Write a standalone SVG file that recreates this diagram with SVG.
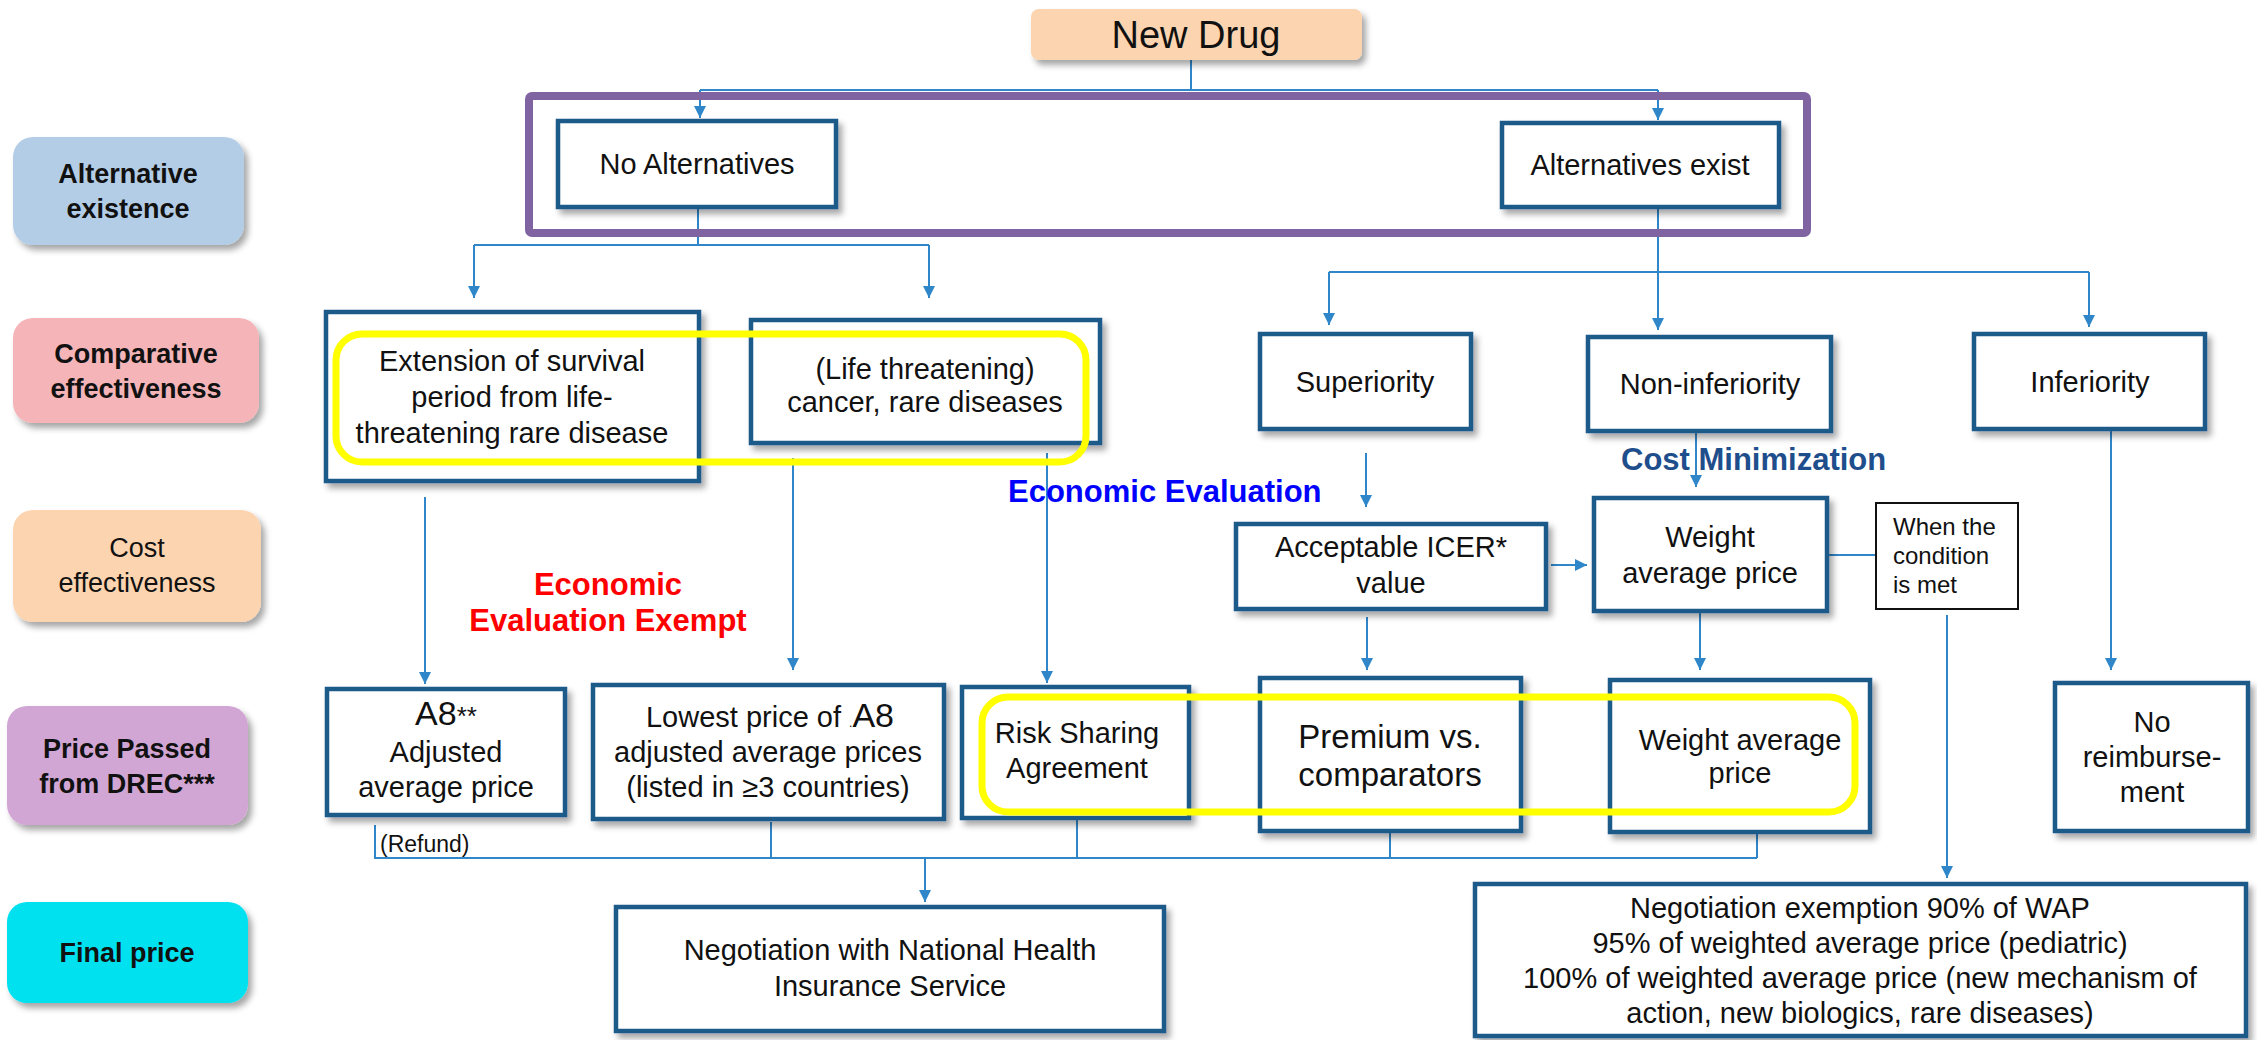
<svg xmlns="http://www.w3.org/2000/svg" width="2257" height="1040" viewBox="0 0 2257 1040">
<defs>
<filter id="sh" x="-10%" y="-10%" width="130%" height="140%">
<feDropShadow dx="4" dy="5" stdDeviation="3" flood-color="#000" flood-opacity="0.35"/>
</filter>
<marker id="ar" viewBox="0 0 10 10" refX="10" refY="5" markerUnits="userSpaceOnUse" markerWidth="14" markerHeight="12" orient="auto">
<path d="M0,0 L10,5 L0,10 z" fill="#2f86c9"/>
</marker>
<style>
text{font-family:"Liberation Sans",Arial,sans-serif;fill:#111;}
.lab{font-size:27px;font-weight:bold;text-anchor:middle;}
.t{font-size:29px;text-anchor:middle;}
.box{fill:#fff;stroke:#1e5a8a;stroke-width:4.5;filter:url(#sh);}
.lbl{stroke:none;filter:url(#sh);}
.c{fill:none;stroke:#2f86c9;stroke-width:2;}
.ca{fill:none;stroke:#2f86c9;stroke-width:2;marker-end:url(#ar);}
.yel{fill:none;stroke:#ffff00;stroke-width:7;}
.hl{font-size:31px;font-weight:bold;}
</style>
</defs>
<rect width="2257" height="1040" fill="#fff"/>

<g id="labels">
<g id="lab-alt"><rect class="lbl" x="13" y="137" width="231" height="108" rx="20" fill="#b3cde7"/>
<text class="lab" x="128" y="183">Alternative</text><text class="lab" x="128" y="218">existence</text></g>
<g id="lab-comp"><rect class="lbl" x="13" y="318" width="246" height="105" rx="20" fill="#f5b5b8"/>
<text class="lab" x="136" y="363">Comparative</text><text class="lab" x="136" y="398">effectiveness</text></g>
<g id="lab-cost"><rect class="lbl" x="13" y="510" width="248" height="112" rx="20" fill="#fdd4b0"/>
<text class="lab" x="137" y="557" style="font-weight:normal">Cost</text><text class="lab" x="137" y="592" style="font-weight:normal">effectiveness</text></g>
<g id="lab-price"><rect class="lbl" x="7" y="706" width="241" height="119" rx="20" fill="#d2a6d4"/>
<text class="lab" x="127" y="758">Price Passed</text><text class="lab" x="127" y="793">from DREC***</text></g>
<g id="lab-final"><rect class="lbl" x="7" y="902" width="241" height="101" rx="20" fill="#00e1f0"/>
<text class="lab" x="127" y="962">Final price</text></g>
</g>

<g id="connectors">
<path class="c" d="M1191,60 V90 M700,90 H1658"/>
<path class="ca" d="M700,90 V118"/>
<path class="ca" d="M1658,90 V120"/>
<path class="c" d="M698,209 V245 M474,245 H929"/>
<path class="ca" d="M474,245 V298"/>
<path class="ca" d="M929,245 V298"/>
<path class="ca" d="M1658,209 V330"/>
<path class="c" d="M1329,272 H2089"/>
<path class="ca" d="M1329,272 V325"/>
<path class="ca" d="M2089,272 V327"/>
<path class="ca" d="M425,497 V684"/>
<path class="ca" d="M793,458 V670"/>
<path class="ca" d="M1047,453 V683"/>
<path class="ca" d="M1366,453 V507"/>
<path class="ca" d="M1367,617 V670"/>
<path class="ca" d="M1551,565 H1587"/>
<path class="ca" d="M1696,433 V487"/>
<path class="c" d="M1829,555 H1876"/>
<path class="ca" d="M1700,613 V670"/>
<path class="ca" d="M1947,615 V878"/>
<path class="ca" d="M2111,431 V670"/>
<path class="c" d="M375,825 V858 H1757 M771,822 V858 M1077,820 V858 M1390,833 V858 M1757,834 V858"/>
<path class="ca" d="M925,858 V902"/>
</g>

<g id="new-drug"><rect x="1031" y="9" width="331" height="51" rx="8" fill="#fcd5b0" filter="url(#sh)"/>
<text x="1196" y="48" style="font-size:38px;text-anchor:middle">New Drug</text></g>

<g id="no-alt"><rect class="box" x="558" y="121" width="278" height="86"/>
<text class="t" x="697" y="174">No Alternatives</text></g>
<g id="alt-exist"><rect class="box" x="1502" y="123" width="277" height="84"/>
<text class="t" x="1640" y="175">Alternatives exist</text></g>

<g id="extension"><rect class="box" x="326" y="312" width="373" height="169"/>
<text class="t" x="512" y="371">Extension of survival</text>
<text class="t" x="512" y="407">period from life-</text>
<text class="t" x="512" y="443">threatening rare disease</text></g>
<g id="life"><rect class="box" x="751" y="320" width="349" height="123"/>
<text class="t" x="925" y="379">(Life threatening)</text>
<text class="t" x="925" y="412">cancer, rare diseases</text></g>
<g id="superiority"><rect class="box" x="1260" y="334" width="211" height="95"/>
<text class="t" x="1365" y="392">Superiority</text></g>
<g id="non-inferiority"><rect class="box" x="1588" y="337" width="243" height="94"/>
<text class="t" x="1710" y="394">Non-inferiority</text></g>
<g id="inferiority"><rect class="box" x="1974" y="334" width="231" height="95"/>
<text class="t" x="2090" y="392">Inferiority</text></g>

<g id="icer"><rect class="box" x="1236" y="524" width="310" height="85"/>
<text class="t" x="1391" y="557">Acceptable ICER*</text>
<text class="t" x="1391" y="593">value</text></g>
<g id="wap-mid"><rect class="box" x="1594" y="498" width="233" height="113"/>
<text class="t" x="1710" y="547">Weight</text>
<text class="t" x="1710" y="583">average price</text></g>
<g id="condition"><rect x="1876" y="503" width="142" height="106" fill="#fff" stroke="#111" stroke-width="2"/>
<text x="1893" y="535" style="font-size:24px">When the</text>
<text x="1893" y="564" style="font-size:24px">condition</text>
<text x="1893" y="593" style="font-size:24px">is met</text></g>

<g id="a8"><rect class="box" x="327" y="689" width="238" height="126"/>
<text class="t" x="446" y="725"><tspan style="font-size:34px">A8</tspan><tspan style="font-size:26px">**</tspan></text>
<text class="t" x="446" y="762">Adjusted</text>
<text class="t" x="446" y="797">average price</text></g>
<g id="lowest"><rect class="box" x="593" y="685" width="351" height="134"/>
<text class="t" x="770" y="727">Lowest price of <tspan style="font-size:12px">.</tspan><tspan style="font-size:34px">A8</tspan></text>
<text class="t" x="768" y="762">adjusted average prices</text>
<text class="t" x="768" y="797">(listed in ≥3 countries)</text></g>
<g id="risk"><rect class="box" x="962" y="687" width="227" height="131"/>
<text class="t" x="1077" y="743">Risk Sharing</text>
<text class="t" x="1077" y="778">Agreement</text></g>
<g id="premium"><rect class="box" x="1260" y="678" width="261" height="153"/>
<text class="t" x="1390" y="748" style="font-size:33px">Premium vs.</text>
<text class="t" x="1390" y="786" style="font-size:33px">comparators</text></g>
<g id="wap-bottom"><rect class="box" x="1610" y="680" width="260" height="152"/>
<text class="t" x="1740" y="750">Weight average</text>
<text class="t" x="1740" y="783">price</text></g>
<g id="no-reimb"><rect class="box" x="2055" y="683" width="193" height="148"/>
<text class="t" x="2152" y="732">No</text>
<text class="t" x="2152" y="767">reimburse-</text>
<text class="t" x="2152" y="802">ment</text></g>

<g id="negotiation"><rect class="box" x="616" y="907" width="548" height="124"/>
<text class="t" x="890" y="960">Negotiation with National Health</text>
<text class="t" x="890" y="996">Insurance Service</text></g>
<g id="neg-exempt"><rect class="box" x="1475" y="884" width="771" height="152"/>
<text class="t" x="1860" y="918">Negotiation exemption 90% of WAP</text>
<text class="t" x="1860" y="953">95% of weighted average price (pediatric)</text>
<text class="t" x="1860" y="988">100% of weighted average price (new mechanism of</text>
<text class="t" x="1860" y="1023">action, new biologics, rare diseases)</text></g>

<g id="refund"><text x="380" y="852" style="font-size:23px">(Refund)</text></g>

<g id="highlights">
<rect x="529" y="96" width="1278" height="137" rx="3" fill="none" stroke="#8064a2" stroke-width="8"/>
<rect class="yel" x="336" y="334" width="750" height="128" rx="26"/>
<rect class="yel" x="982" y="697" width="873" height="115" rx="26"/>
</g>

<g id="annotations">
<text class="hl" x="608" y="595" style="fill:#ff0000;text-anchor:middle">Economic</text>
<text class="hl" x="608" y="631" style="fill:#ff0000;text-anchor:middle">Evaluation Exempt</text>
<text class="hl" x="1008" y="502" style="fill:#0000ff">Economic Evaluation</text>
<text class="hl" x="1621" y="470" style="fill:#1f4e8c">Cost Minimization</text>
</g>
</svg>
